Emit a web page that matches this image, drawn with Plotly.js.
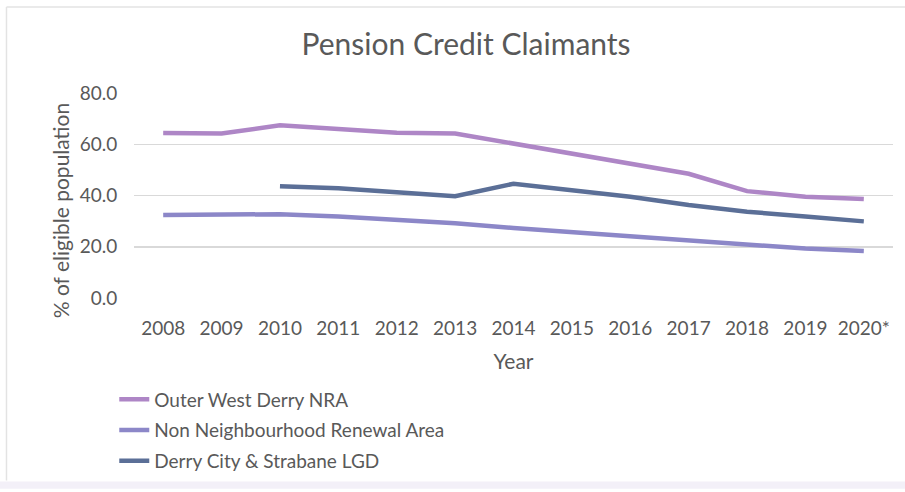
<!DOCTYPE html>
<html><head><meta charset="utf-8">
<script src="https://cdn.plot.ly/plotly-3.0.1.min.js"></script>
<style>body{margin:0;background:#fff}#chart{width:905px;height:492px}</style>
</head><body><div id="chart"></div>
<script>
const years = ['2008','2009','2010','2011','2012','2013','2014','2015','2016','2017','2018','2019','2020*'];
const outerWest = [64.4, 64.2, 67.4, 66.0, 64.5, 64.2, 60.2, 56.6, 52.4, 48.5, 41.7, 39.5, 38.6];
const nonNRA = [32.4, 32.4, 32.7, 31.8, 30.7, 29.2, 27.3, 25.7, 24.1, 22.5, 20.6, 19.3, 18.3];
const derryCity = [null, null, 43.6, 42.8, 41.3, 39.7, 44.6, 42.0, 39.5, 36.3, 33.7, 31.8, 29.9];
const yTicks = [0, 20, 40, 60, 80];
const yTickText = ['0.0', '20.0', '40.0', '60.0', '80.0'];

const FONT = 'Lato, "Open Sans", sans-serif';
const traces = [
  {x: years, y: outerWest, name: 'Outer West Derry NRA', legendgroup: 'a', line: {color: '#AE86C6', width: 4.5}},
  {x: years, y: nonNRA, name: 'Non Neighbourhood Renewal Area', legendgroup: 'b', line: {color: '#8C87C8', width: 4.5}},
  {x: years, y: derryCity, name: 'Derry City & Strabane LGD', legendgroup: 'c', line: {color: '#5B6F97', width: 4.5}}
].map(t => Object.assign({type: 'scatter', mode: 'lines', connectgaps: false, hoverinfo: 'skip'}, t));

const layout = {
  width: 905, height: 492,
  margin: {l: 134, r: 12, t: 93, b: 191},
  paper_bgcolor: '#fff', plot_bgcolor: '#fff',
  font: {family: FONT, color: '#595959', size: 18},
  title: {text: 'Pension Credit Claimants', font: {family: FONT, size: 30, color: '#595959'}, x: 0.515, xref: 'container', xanchor: 'center', y: 0.91, yanchor: 'middle'},
  xaxis: {
    type: 'category', range: [-0.5, 12.5], showgrid: false, zeroline: false, showline: false,
    ticks: 'outside', ticklen: 13, tickcolor: 'rgba(0,0,0,0)',
    tickfont: {size: 19, color: '#595959'},
    title: {text: 'Year', font: {size: 21, color: '#595959'}, standoff: 16}
  },
  yaxis: {
    range: [0, 80], tickvals: yTicks, ticktext: yTickText,
    showgrid: true, gridcolor: '#D9D9D9', gridwidth: 1.5,
    zeroline: false, showline: false,
    ticks: 'outside', ticklen: 12, tickcolor: 'rgba(0,0,0,0)',
    tickfont: {size: 19, color: '#595959'}
  },
  annotations: [
    {text: '% of eligible population', textangle: -90, xref: 'paper', yref: 'paper',
     x: (60 - 134) / (905 - 134 - 12), xanchor: 'center',
     y: (492 - 191 - 213) / (492 - 93 - 191), yanchor: 'middle', showarrow: false,
     font: {size: 21, color: '#595959'}}
  ],
  showlegend: true,
  legend: {orientation: 'v', x: -0.026, xanchor: 'left', y: -0.402, yanchor: 'top',
    traceorder: 'grouped', tracegroupgap: 3,
    font: {size: 19, color: '#595959'}, bgcolor: 'rgba(0,0,0,0)', itemwidth: 30},
  shapes: [
    {type: 'line', xref: 'paper', yref: 'paper', x0: -0.168, x1: 1.02, y0: 1.42, y1: 1.42, line: {color: '#E3E3E3', width: 1.5}},
    {type: 'line', xref: 'paper', yref: 'paper', x0: -0.168, x1: -0.168, y0: 1.42, y1: -0.89, line: {color: '#E3E3E3', width: 1.5}},
    {type: 'rect', xref: 'paper', yref: 'paper', x0: -0.2, x1: 1.02, y0: -0.895, y1: -0.93, fillcolor: '#F3F0F8', line: {width: 0}}
  ]
};
Plotly.newPlot('chart', traces, layout, {displayModeBar: false, staticPlot: true});
</script></body></html>
